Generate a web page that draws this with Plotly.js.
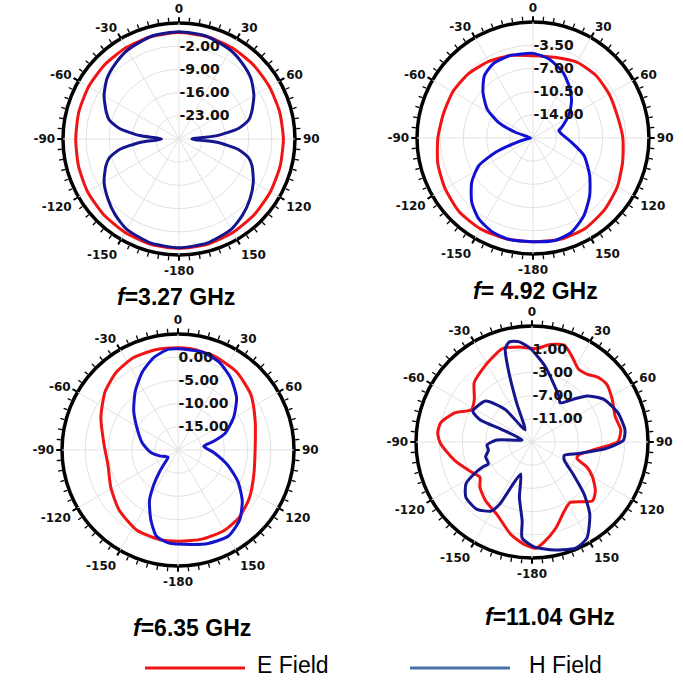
<!DOCTYPE html>
<html>
<head>
<meta charset="utf-8">
<script src="https://cdn.plot.ly/plotly-3.0.1.min.js"></script>
<style>html,body{margin:0;padding:0;background:#fff;}#chart{width:683px;height:684px;}</style>
</head>
<body>
<div id="chart"></div>
<script>
// ---------- data (dB) ----------
const angleTickVals = [0, 30, 60, 90, 120, 150, 180, 210, 240, 270, 300, 330];
const angleTickText = ['0', '30', '60', '90', '120', '150', '-180', '-150', '-120', '-90', '-60', '-30'];
const titles = ['<i>f</i>=3.27 GHz', '<i>f</i>= 4.92 GHz', '<i>f</i>=6.35 GHz', '<i>f</i>=11.04 GHz'];
const seriesNames = ['E Field', 'H Field'];

// f = 3.27 GHz
const r1Range = [-30, 5];
const r1Ticks = [-23, -16, -9, -2];
const r1TickText = ['-23.00', '-16.00', '-9.00', '-2.00'];
const e1Theta = [0,15,30,45,60,75,90,105,120,135,150,165,180,195,210,225,240,255,270,285,300,315,330,345,360];
const e1R = [2.1,2.0,1.85,1.7,1.5,1.45,1.5,1.6,1.85,2.2,2.55,2.9,3.0,2.9,2.55,2.2,1.85,1.4,1.15,1.3,1.5,1.7,1.85,2.0,2.1];
const h1Theta = [0,15,30,40,50,60,70,75,80,85,90,95,100,105,110,120,130,140,150,165,180,195,210,220,230,240,250,255,260,265,270,275,280,285,290,300,310,320,330,345,360];
const h1R = [2.34,2.1,1.0,-0.25,-1.65,-3.9,-6.7,-8.3,-11.8,-18.45,-26.1,-18.45,-11.8,-8.3,-6.55,-4.1,-2.0,-0.1,1.5,2.55,2.8,2.55,1.5,-0.1,-2.0,-3.9,-6.55,-8.3,-11.8,-18.1,-24.7,-18.1,-11.8,-8.3,-6.7,-3.9,-1.65,-0.25,1.0,2.1,2.34];

// f = 4.92 GHz
const r2Range = [-17.5, 0];
const r2Ticks = [-14, -10.5, -7, -3.5];
const r2TickText = ['-14.00', '-10.50', '-7.00', '-3.50'];
const e2Theta = [0,15,30,45,60,75,90,105,120,135,150,165,180,195,210,225,240,255,270,285,300,315,330,345,360];
const e2R = [-5.08,-4.9,-4.29,-4.11,-4.24,-4.34,-3.94,-3.5,-2.8,-2.22,-1.75,-1.66,-1.86,-1.75,-1.66,-1.75,-2.19,-2.63,-3.15,-3.5,-3.54,-3.76,-4.17,-4.59,-5.08];
const h2Theta = [0,11.5,24.6,37.2,47.2,57.8,69.6,74.2,82,96.4,109,123.6,135.5,146.7,157.8,168,180,193,203,213.8,223.6,234.1,242.9,249,253.6,261,270,288,294.4,302.3,312.4,322,331.5,344.2,360];
const h2R = [-4.73,-5.34,-6.62,-8.23,-9.59,-11.15,-12.88,-13.44,-13.14,-11.65,-9.35,-7.23,-5.3,-3.5,-2.14,-1.68,-1.86,-1.77,-2.03,-2.8,-4.1,-6.09,-8.31,-11.46,-14.28,-16.52,-17.15,-14.7,-11.78,-9.33,-7.28,-5.58,-4.8,-4.59,-4.73];

// f = 6.35 GHz
const r3Range = [-20, 5];
const r3Ticks = [-15, -10, -5, 0];
const r3TickText = ['-15.00', '-10.00', '-5.00', '0.00'];
const e3Theta = [0,7.3,20.8,36.9,52.7,69,89.5,108.4,123.7,137.5,150.5,164.8,179,191.7,207.4,224.1,240.5,257.5,275.4,293.1,308.8,321.7,334.4,348,360];
const e3R = [2.03,1.98,1.7,1.03,-0.28,-2.2,-3.38,-2.8,-1.5,-0.4,0.0,-0.1,-0.35,-0.3,-0.6,-1.85,-3.38,-4.55,-3.93,-1.93,0.15,1.4,2.1,2.15,2.03];
const h3Theta = [0,13.9,25.3,36.5,48.3,59.5,70.5,76.3,81.5,94.1,107.2,117.8,128.4,138.8,149.9,162.2,172.2,186.1,194,201.1,209.3,214.9,220.2,226.3,233.3,252.6,264.6,281.2,299.3,311.6,323.9,335.4,345.3,354.3,360];
const h3R = [1.8,1.75,0.9,-0.83,-3.1,-6.08,-9.23,-12.08,-14.4,-12.28,-8.73,-5.4,-2.33,0.13,1.5,1.15,0.53,0.13,-0.83,-3.78,-7.43,-10.85,-13.8,-16.18,-17.33,-15.8,-14.13,-12.15,-9.78,-7.23,-4.35,-1.53,0.6,1.78,1.8];

// f = 11.04 GHz
const r4Range = [-15, 5];
const r4Ticks = [-11, -7, -3, 1];
const r4TickText = ['-11.00', '-7.00', '-3.00', '1.00'];
const e4Theta = [2.6,10.6,18.5,24.5,32.4,38.9,45.7,52.2,62,72.8,82.2,89.8,95.5,105.9,110.2,114.5,120.1,127.6,134.2,147.9,154.9,164.5,172.7,177.7,183.9,192.8,205.9,218.3,229,236,243.6,256.7,269.1,275.3,281.7,290.6,298.2,306.4,315.8,326,333.9,342.4,352.4,362.6];
const e4R = [1.12,2.1,2.58,1.4,-0.08,0.06,0.94,1.28,0.66,0.0,0.44,-0.2,-3.54,-6.68,-6.72,-4.6,-2.94,-1.22,-0.44,-2.68,-1.86,0.38,2.28,3.32,2.76,1.38,-1.12,-2.08,-3.1,-4.16,-3.34,-1.28,0.78,1.34,1.12,-0.74,-3.16,-2.64,-0.7,0.2,0.98,1.88,1.52,1.12];
const h4Theta = [-0.9,9.4,19.5,30.3,35.7,43.8,50,59.3,71.3,82.5,88.8,94.9,103.9,112.2,119.4,127.9,135,141.4,150.3,157.7,170.4,179.2,185.9,187.1,192.8,199.5,205,207.5,210.6,219.2,230,237.6,241.2,243.1,243.6,252.3,259.5,266.2,273.2,282,292.4,293.2,297.5,311.4,320.5,330,338.5,341.9,344,347.3,352.8,359.1];
const h4R = [1.1,-1.64,-4.12,-5.84,-6.68,-4.82,-2.64,-0.6,0.64,1.16,0.78,-2.1,-6.76,-8.98,-8.6,-6.08,-2.3,0.96,4.08,4.8,3.86,3.02,1.64,-1.26,-5.2,-9.18,-6.38,-2.9,-1.18,-0.02,-0.12,-1.5,-3.64,-5.46,-6.6,-6.6,-7.36,-7.22,-8.92,-13.26,-9.48,-5.24,-3.5,-4.32,-7.74,-12.58,-7.72,-1.74,1.74,2.7,2.4,1.1];

// ---------- styling ----------
const RED = '#f21414';
const BLUES = ['#15158e', '#1010d4', '#1414cc', '#15158e'];
const LEGEND_BLUE = '#4a70aa';
const GRID = '#e2e2e2';
const tickFontAng = {family: 'DejaVu Sans, Arial, sans-serif', size: 12, color: '#111', weight: 'bold'};
const tickFontRad = {family: 'DejaVu Sans, Arial, sans-serif', size: 14, color: '#111', weight: 'bold'};

// domains: [x0,x1],[y0,y1] (paper fractions)
const domains = [
  {x: [0.0922, 0.4319], y: [0.6272, 0.9664]},
  {x: [0.6105, 0.9502], y: [0.6287, 0.9678]},
  {x: [0.0908, 0.4305], y: [0.1725, 0.5117]},
  {x: [0.6091, 0.9488], y: [0.1842, 0.5234]}
];
const panels = [
  {range: r1Range, ticks: r1Ticks, text: r1TickText, e: [e1Theta, e1R], h: [h1Theta, h1R]},
  {range: r2Range, ticks: r2Ticks, text: r2TickText, e: [e2Theta, e2R], h: [h2Theta, h2R]},
  {range: r3Range, ticks: r3Ticks, text: r3TickText, e: [e3Theta, e3R], h: [h3Theta, h3R]},
  {range: r4Range, ticks: r4Ticks, text: r4TickText, e: [e4Theta, e4R], h: [h4Theta, h4R]}
];

const minorTicks = [];
for (let a = 0; a < 360; a += 5) minorTicks.push(a);

const data = [];
const layout = {
  width: 683, height: 684,
  margin: {l: 0, r: 0, t: 0, b: 0},
  paper_bgcolor: '#ffffff',
  showlegend: false,
  annotations: [],
  shapes: []
};

// ring subplots (polar .. polar4): thick black frame with fine ticks
panels.forEach((p, i) => {
  const id = i === 0 ? 'polar' : 'polar' + (i + 1);
  data.push({type: 'scatterpolar', r: [], theta: [], subplot: id, showlegend: false, hoverinfo: 'skip'});
  layout[id] = {
    domain: domains[i],
    bgcolor: '#ffffff',
    angularaxis: {
      rotation: 90, direction: 'clockwise',
      tickmode: 'array', tickvals: minorTicks,
      showticklabels: false, showgrid: false,
      showline: true, linecolor: '#000', linewidth: 3.5,
      ticks: 'outside', ticklen: 4, tickwidth: 1.3, tickcolor: '#000'
    },
    radialaxis: {visible: false, range: p.range}
  };
});

// main subplots (polar5 .. polar8): grid, labels, curves
panels.forEach((p, i) => {
  const id = 'polar' + (i + 5);
  layout[id] = {
    domain: domains[i],
    bgcolor: 'rgba(0,0,0,0)',
    angularaxis: {
      rotation: 90, direction: 'clockwise',
      tickmode: 'array', tickvals: angleTickVals, ticktext: angleTickText,
      tickfont: tickFontAng,
      showgrid: true, gridcolor: GRID, gridwidth: 1,
      showline: false,
      ticks: 'outside', ticklen: 5, tickwidth: 2, tickcolor: '#000'
    },
    radialaxis: {
      range: p.range, angle: 90, tickangle: 90, side: 'clockwise',
      tickmode: 'array', tickvals: p.ticks, ticktext: p.text,
      tickfont: tickFontRad,
      showline: false, ticks: '',
      showgrid: true, gridcolor: GRID, gridwidth: 1
    }
  };
  data.push({
    type: 'scatterpolar', mode: 'lines', subplot: id, name: seriesNames[0],
    theta: p.e[0], r: p.e[1],
    line: {color: RED, width: 3, shape: 'spline', smoothing: 0.6}
  });
  data.push({
    type: 'scatterpolar', mode: 'lines', subplot: id, name: seriesNames[1],
    theta: p.h[0], r: p.h[1],
    line: {color: BLUES[i], width: 3, shape: 'spline', smoothing: 0.6}
  });
});

// titles under each panel
const titlePos = [[0.258, 0.566], [0.784, 0.575], [0.281, 0.082], [0.805, 0.098]];
titles.forEach((t, i) => {
  layout.annotations.push({
    text: t, xref: 'paper', yref: 'paper', x: titlePos[i][0], y: titlePos[i][1],
    xanchor: 'center', yanchor: 'middle', showarrow: false,
    font: {family: 'Liberation Sans, Arial, sans-serif', size: 23, color: '#000', weight: 'bold'}
  });
});

// legend drawn as line samples + labels
const legendY = 0.0234;
layout.shapes.push({type: 'line', xref: 'paper', yref: 'paper', x0: 0.2123, x1: 0.3587, y0: legendY, y1: legendY, line: {color: RED, width: 3}});
layout.shapes.push({type: 'line', xref: 'paper', yref: 'paper', x0: 0.6003, x1: 0.7467, y0: legendY, y1: legendY, line: {color: LEGEND_BLUE, width: 3}});
layout.annotations.push({text: seriesNames[0], xref: 'paper', yref: 'paper', x: 0.3734, y: legendY + 0.004, xanchor: 'left', yanchor: 'middle', showarrow: false,
  font: {family: 'Liberation Sans, Arial, sans-serif', size: 23, color: '#000'}});
layout.annotations.push({text: seriesNames[1], xref: 'paper', yref: 'paper', x: 0.7716, y: legendY + 0.004, xanchor: 'left', yanchor: 'middle', showarrow: false,
  font: {family: 'Liberation Sans, Arial, sans-serif', size: 23, color: '#000'}});

Plotly.newPlot('chart', data, layout, {displayModeBar: false, staticPlot: true});
</script>
</body>
</html>
